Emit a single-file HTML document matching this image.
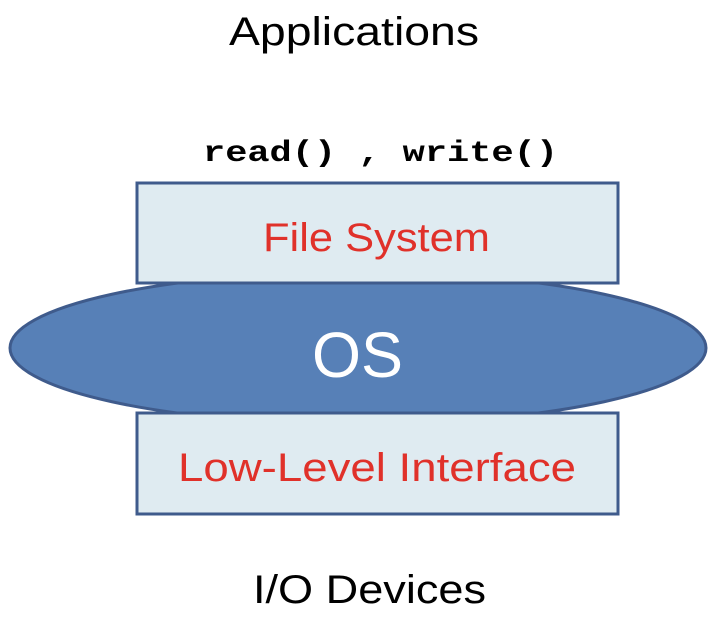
<!DOCTYPE html>
<html><head><style>body{margin:0;background:#fff}</style></head><body>
<svg width="708" height="628" xmlns="http://www.w3.org/2000/svg">
<text x="229" y="45" textLength="250" lengthAdjust="spacingAndGlyphs" font-family="Liberation Sans, sans-serif" font-size="40" fill="#000">Applications</text>
<text x="203" y="161" textLength="355" lengthAdjust="spacingAndGlyphs" font-family="Liberation Mono, monospace" font-weight="bold" font-size="30" fill="#000" xml:space="preserve">read() , write()</text>
<ellipse cx="358" cy="348" rx="348" ry="76" fill="#5780b7" stroke="#3f5b8c" stroke-width="3"/>
<rect x="137" y="183" width="481" height="100" fill="#dfebf1" stroke="#3f5b8c" stroke-width="3"/>
<rect x="137" y="413" width="481" height="101" fill="#dfebf1" stroke="#3f5b8c" stroke-width="3"/>
<text x="263" y="251" textLength="227" lengthAdjust="spacingAndGlyphs" font-family="Liberation Sans, sans-serif" font-size="40" fill="#e0312a">File System</text>
<text x="312" y="377" textLength="91" lengthAdjust="spacingAndGlyphs" font-family="Liberation Sans, sans-serif" font-size="64" fill="#fff">OS</text>
<text x="178" y="481" textLength="398" lengthAdjust="spacingAndGlyphs" font-family="Liberation Sans, sans-serif" font-size="40" fill="#e0312a">Low-Level Interface</text>
<text x="253" y="603" textLength="233" lengthAdjust="spacingAndGlyphs" font-family="Liberation Sans, sans-serif" font-size="40" fill="#000">I/O Devices</text>
</svg>
</body></html>
